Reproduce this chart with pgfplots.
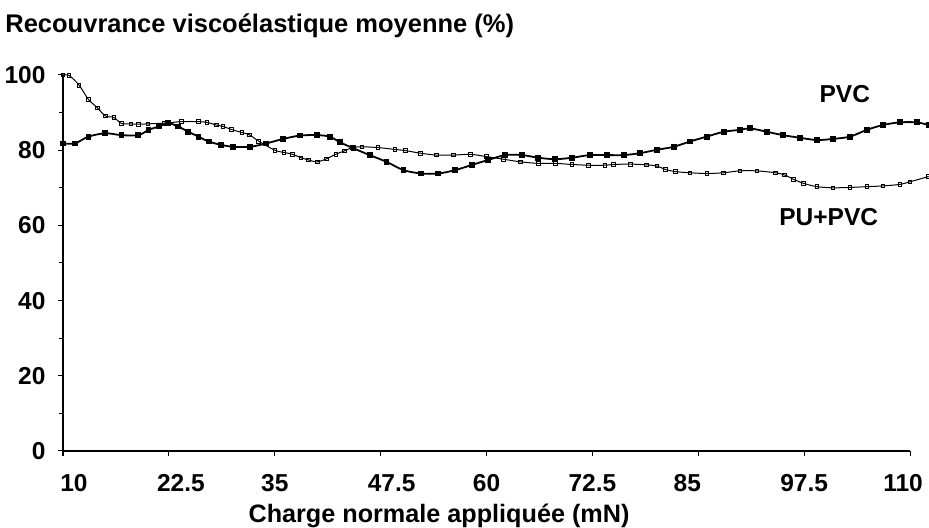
\documentclass[border=0pt]{standalone}
\usepackage{fontspec}
\setmainfont{Liberation Sans}
\usepackage{pgfplots}
\pgfplotsset{compat=1.18}
\begin{document}
\fontsize{12.25}{14}\selectfont\bfseries
\begin{tikzpicture}[x=1pt,y=1pt]
\path[use as bounding box] (0,0) rectangle (464.5,264);
\begin{axis}[
  at={(31.5pt,38.5pt)}, anchor=south west,
  scale only axis, width=423.5pt, height=188pt,
  xmin=10, xmax=110, ymin=0, ymax=100,
  clip=false,
  axis x line*=bottom, axis y line*=left,
  axis line style={-, line width=0.6pt},
  tick align=outside,
  major tick length=2.5pt, minor tick length=2pt,
  tick style={line width=0.5pt, black},
  xtick={10,22.5,35,47.5,60,72.5,85,97.5,110},
  xticklabels={\hspace*{11pt}10,\hspace*{12pt}22.5,35,\hspace*{11pt}47.5,60,72.5,85\hspace*{11pt},97.5,110\hspace*{7pt}},
  ytick={0,20,40,60,80,100},
  yticklabels={0,20,40,60,80,100},
  minor ytick={10,30,50,70,90},
  ticklabel style={font=\fontsize{12.25}{14}\selectfont\bfseries},
  xticklabel style={yshift=-5pt},
  yticklabel style={xshift=-2pt},
]
\addplot[black, line width=0.5pt, smooth, mark=square, mark size=0.9pt, mark options={line width=0.4pt, fill=white}] coordinates {
(10,100) (10.7,99.9) (11.9,97.3) (13.0,93.5) (14.05,91.3) (15.0,89.1) (16.0,88.7)
(16.9,87.1) (18.0,87.0) (18.9,86.9) (20,87.0) (22,87.2) (24.0,87.6) (26.0,87.6)
(27.0,87.4) (28.1,86.7) (28.9,86.3) (29.9,85.5) (31.1,84.7) (32.0,84.1) (33.1,82.4)
(35.0,80.0) (36.1,79.4) (37.1,78.9) (38.1,78.0) (39.0,77.4) (40.0,76.9) (41.1,77.7)
(42.2,78.9) (43.2,79.8) (44.2,80.7) (45.3,80.9) (47.2,80.7) (49.2,80.2) (50.4,79.9)
(52.2,79.2) (54.1,78.7) (56.1,78.7) (58.1,78.9) (60.0,78.3) (62.0,77.6) (64.0,76.9)
(66.1,76.5) (68.1,76.5) (70.1,76.2) (72.0,76.0) (74.0,76.0) (75.0,76.2) (77.0,76.3)
(78.9,76.1) (80.1,75.8) (81.1,74.9) (82.3,74.3) (84.0,74.0) (86.0,73.8) (88.0,74.0)
(89.9,74.5) (91.9,74.5) (94.1,74.0) (95.2,73.4) (96.2,72.3) (97.4,71.2) (99.0,70.3)
(100.9,70.0) (102.9,70.1) (104.9,70.3) (106.8,70.5) (108.8,70.9) (110.0,71.6) (112.2,73.0)
};
\addplot[black, line width=0.9pt, smooth, mark=square*, mark size=1.0pt] coordinates {
(10.0,81.8) (11.4,81.8) (13.0,83.6) (15.0,84.5) (16.9,84.0) (18.9,84.0) (20.1,85.4)
(21.3,86.3) (22.4,87.2) (23.6,86.3) (24.8,84.9) (26.0,83.6) (27.2,82.3) (28.7,81.4)
(30.1,80.9) (32.1,80.9) (34.0,81.8) (36.0,83.0) (38.0,83.9) (40.0,84.0) (41.5,83.6)
(42.7,82.1) (44.3,80.5) (46.2,78.7) (48.2,76.9) (50.2,74.7) (52.3,73.8) (54.3,73.8)
(56.3,74.7) (58.3,76.1) (60.2,77.4) (62.2,78.7) (64.2,78.7) (66.1,78.0) (68.1,77.6)
(70.1,78.0) (72.2,78.7) (74.2,78.7) (76.2,78.7) (78.1,79.2) (80.1,80.1) (82.1,80.9)
(84.0,82.3) (86.0,83.6) (88.0,84.9) (89.9,85.4) (91.1,85.8) (93.1,84.9) (95.0,84.0)
(97.0,83.3) (99.0,82.7) (100.9,83.0) (102.9,83.6) (104.9,85.4) (106.8,86.7) (108.8,87.4)
(110.8,87.4) (112.2,86.7)
};
\node[anchor=base, inner sep=0pt] at (axis cs:102.3,92.8) {PVC};
\node[anchor=base, inner sep=0pt] at (axis cs:100.4,60.1) {PU+PVC};
\end{axis}
\node[anchor=base west, inner sep=0pt] at (2.5,247.5) {\fontsize{12.75}{14}\selectfont Recouvrance viscoélastique moyenne (\%)};
\node[anchor=base, inner sep=0pt] at (219.5,2.5) {\fontsize{12.6}{14}\selectfont Charge normale appliquée (mN)};
\end{tikzpicture}
\end{document}
